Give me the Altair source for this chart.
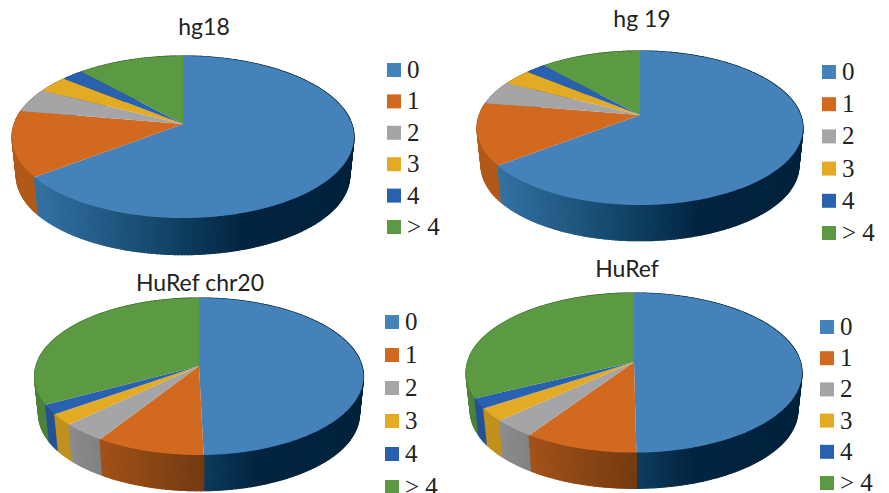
import math
import altair as alt

CATEGORIES = ["0", "1", "2", "3", "4", "> 4"]
COLORS = ["#4682BA", "#D1691F", "#A5A5A8", "#E3AA23", "#2960AF", "#5B9A42"]

TITLES = ["hg18", "hg 19", "HuRef chr20", "HuRef"]
HG18 = [64.6, 13.1, 4.75, 3.4, 2.45, 11.7]
HG19 = [64.6, 13.0, 4.95, 3.4, 2.35, 11.7]
CHR20 = [49.6, 9.45, 3.85, 2.3, 2.0, 32.8]
HUREF = [49.8, 9.65, 3.65, 2.65, 2.05, 32.2]
SERIES = [HG18, HG19, CHR20, HUREF]

# layout: panel origin, pie hub, half-width, back / front reach, wall depth, title, legend key x, label x, first / last row y
PANELS = [
    dict(o=(8, 8), w=437, h=242, c=(183, 124), rx=171, back=68, front=94, d=39, t=(204, 28), kx=394, tx=407, ry=(70, 227)),
    dict(o=(445, 8), w=436, h=242, c=(640, 115), rx=163, back=64, front=90, d=38, t=(642, 20), kx=829, tx=842, ry=(72, 233)),
    dict(o=(8, 250), w=437, h=243, c=(199, 366), rx=164.5, back=68, front=89, d=38, t=(200, 284), kx=392, tx=405, ry=(322, 487)),
    dict(o=(445, 250), w=436, h=243, c=(634, 362), rx=168, back=69, front=90.6, d=38, t=(627, 270), kx=827, tx=840, ry=(327, 483)),
]


def lerp(a, b, f):
    return a + (b - a) * f


def hexrgb(h):
    return [int(h[i:i + 2], 16) for i in (1, 3, 5)]


def tohex(rgb):
    return "#" + "".join(f"{max(0, min(255, round(c))):02x}" for c in rgb)


BLUE_STOPS = [(0.0, "#3a78aa"), (0.12, "#2f6c9b"), (0.45, "#124568"), (0.68, "#022440"), (1.0, "#01223c")]


def wall_color(i, t):
    if i == 0:
        for (t0, c0), (t1, c1) in zip(BLUE_STOPS, BLUE_STOPS[1:]):
            if t <= t1:
                f = (t - t0) / (t1 - t0) if t >= t0 else 0
                return tohex([lerp(a, b, f) for a, b in zip(hexrgb(c0), hexrgb(c1))])
        return BLUE_STOPS[-1][1]
    factor = lerp(0.85, 0.56, max(0, min(1, (t - 0.1) / 0.4)))
    return tohex([c * factor for c in hexrgb(COLORS[i])])


def panel_chart(p, title, values):
    ox, oy = p["o"]
    cx, cy = p["c"][0] - ox, p["c"][1] - oy
    k = (p["front"] - p["back"]) / (p["front"] + p["back"])
    a = 2 * p["front"] * p["back"] / (p["front"] + p["back"])
    b = p["rx"] * math.sqrt(1 - k * k)

    def rim(t):
        u, v = math.sin(t), math.cos(t)
        return b * u / (1 + k * v), -a * v / (1 + k * v)

    def top(t):
        x, y = rim(t)
        return [cx + x, cy + y]

    def bottom(t):
        x, y = rim(t)
        return [cx + 0.975 * x, cy + 0.975 * y + p["d"]]

    total = sum(values)
    tops, walls = [], []
    start = 0.0
    for i, val in enumerate(values):
        end = start + val / total * 2 * math.pi
        n = max(2, int((end - start) / math.radians(1.0)))
        ts = [start + (end - start) * j / n for j in range(n + 1)]
        ring = [[cx, cy]] + [top(t) for t in ts] + [[cx, cy]]
        tops.append({
            "type": "Feature",
            "properties": {"cat": CATEGORIES[i]},
            "geometry": {"type": "Polygon", "coordinates": [ring]},
        })
        for t0, t1 in zip(ts, ts[1:]):
            mid = (t0 + t1) / 2
            xpos = (math.sin(mid) * b / (1 + k * math.cos(mid)) + p["rx"]) / (2 * p["rx"])
            quad = [top(t0), top(t1), bottom(t1), bottom(t0), top(t0)]
            walls.append((math.cos(mid), {
                "type": "Feature",
                "properties": {"c": wall_color(i, xpos)},
                "geometry": {"type": "Polygon", "coordinates": [quad]},
            }))
        start = end
    walls = [w for _, w in sorted(walls, key=lambda s: -s[0])]

    color_scale = alt.Scale(domain=CATEGORIES, range=COLORS)
    proj = dict(type="identity", scale=1, translate=[0, 0])
    wall_layer = alt.Chart(alt.Data(values=walls)).mark_geoshape(strokeWidth=1.2, clip=False).encode(
        fill=alt.Fill("properties.c:N", scale=None),
        stroke=alt.Stroke("properties.c:N", scale=None),
    ).project(**proj)
    top_layer = alt.Chart(alt.Data(values=tops)).mark_geoshape(strokeWidth=0.4, clip=False).encode(
        color=alt.Color("properties.cat:N", scale=color_scale, legend=None),
    ).project(**proj)
    title_layer = alt.Chart(alt.Data(values=[{"label": title}])).mark_text(
        font="Lato", fontSize=23, color="#222222", align="center", baseline="middle",
    ).encode(
        text="label:N",
        x=alt.value(p["t"][0] - ox),
        y=alt.value(p["t"][1] - oy),
    )
    key_data = alt.Data(values=[{"cat": c} for c in CATEGORIES])
    row_y = alt.Y(
        "cat:N", axis=None,
        scale=alt.Scale(type="point", domain=CATEGORIES, padding=0,
                        range=[p["ry"][0] - oy, p["ry"][1] - oy]),
    )
    key_layer = alt.Chart(key_data).mark_square(size=196, opacity=1, clip=False).encode(
        x=alt.value(p["kx"] - ox),
        y=row_y,
        color=alt.Color("cat:N", scale=color_scale, legend=None),
    )
    label_layer = alt.Chart(key_data).mark_text(
        font="Times New Roman, Liberation Serif, DejaVu Serif, serif",
        fontSize=25, color="#222222", align="left", baseline="middle", clip=False,
    ).encode(
        x=alt.value(p["tx"] - ox),
        y=row_y,
        text="cat:N",
    )
    return alt.layer(wall_layer, top_layer, title_layer, key_layer, label_layer).properties(
        width=p["w"], height=p["h"]
    )


charts = [panel_chart(p, t, s) for p, t, s in zip(PANELS, TITLES, SERIES)]
chart = alt.concat(*charts, columns=2, spacing=0, bounds="flush").resolve_scale(y="independent").properties(
    padding=0, background="white"
).configure_view(stroke=None)

chart.save("out.html", embed_options={"renderer": "svg", "actions": False})
